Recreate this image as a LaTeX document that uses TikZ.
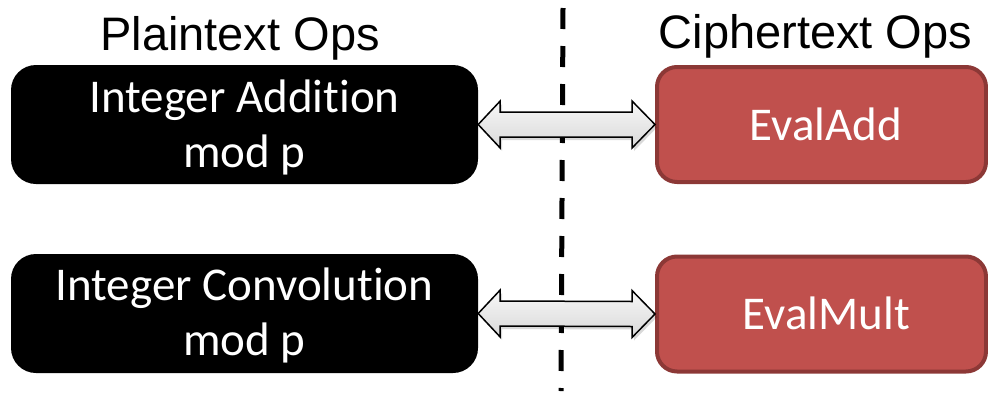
\documentclass[tikz,border=0pt]{standalone}
\usepackage{fontspec}
\setmainfont{Carlito}[Ligatures={NoCommon}]
\newfontfamily\hdrfont{Liberation Sans}
\usetikzlibrary{calc}
\definecolor{redfill}{HTML}{C0504D}
\definecolor{redline}{HTML}{8C3836}
\newcommand\dblarrow[2]{%
  \path[arrowshadow] ($(#1.east)+(2,3)$) -- ++(22,-23.5) -- ++(0,11) -- ($(#2.west)+(-21,-9.5)$) -- ++(0,-11) -- ($(#2.west)+(2,3)$) -- ++(-23,23.5) -- ++(0,-11) -- ($(#1.east)+(24,15.5)$) -- ++(0,11) -- cycle;
  \path[blockarrow] (#1.east) -- ++(22,-23.5) -- ++(0,11) -- ($(#2.west)+(-23,-12.5)$) -- ++(0,-11) -- (#2.west) -- ++(-23,23.5) -- ++(0,-11) -- ($(#1.east)+(22,12.5)$) -- ++(0,11) -- cycle;}
\begin{document}
\begin{tikzpicture}[x=1pt,y=-1pt,
  blackbox/.style={fill=black, rounded corners=25pt, minimum width=467pt, minimum height=119pt, inner sep=0pt},
  redbox/.style={fill=redfill, draw=redline, line width=4pt, rounded corners=20pt, minimum width=329pt, minimum height=115pt, inner sep=0pt},
  wtext/.style={text=white, font=\fontsize{47}{55}\selectfont, inner sep=0pt, anchor=base},
  hdr/.style={text=black, font=\hdrfont\fontsize{47}{55}\selectfont, inner sep=0pt, anchor=base},
  blockarrow/.style={draw=black, line width=1.5pt, line join=miter, top color=gray!6, bottom color=gray!30},
  arrowshadow/.style={fill=black, opacity=0.15},
  divider/.style={line width=5pt, dash pattern=on 21pt off 17pt}]
\useasboundingbox (0,0) rectangle (988,394);
% headers
\node[hdr] (hp) at (240,50) {Plaintext Ops};
\node[hdr] (hc) at (815.5,48) {Ciphertext Ops};
% divider
\coordinate (dtop) at (563,8);
\coordinate (dbot) at (561,391);
\draw[divider] (dtop) -- (dbot);
% boxes
\node[blackbox] (L1) at (244.5,124.5) {};
\node[blackbox] (L2) at (244.5,313.5) {};
\node[redbox] (R1) at (821.5,124.5) {};
\node[redbox] (R2) at (821.5,314) {};
% texts
\node[wtext] (t1a) at (244.5,112) {Integer Addition};
\node[wtext] (t1b) at (244.5,167) {mod p};
\node[wtext] (t2a) at (244.5,300) {Integer Convolution};
\node[wtext] (t2b) at (244.5,355) {mod p};
\node[wtext] (t3) at (826,140) {EvalAdd};
\node[wtext] (t4) at (826.5,329) {EvalMult};
% arrows
\dblarrow{L1}{R1}
\dblarrow{L2}{R2}
\end{tikzpicture}
\end{document}
